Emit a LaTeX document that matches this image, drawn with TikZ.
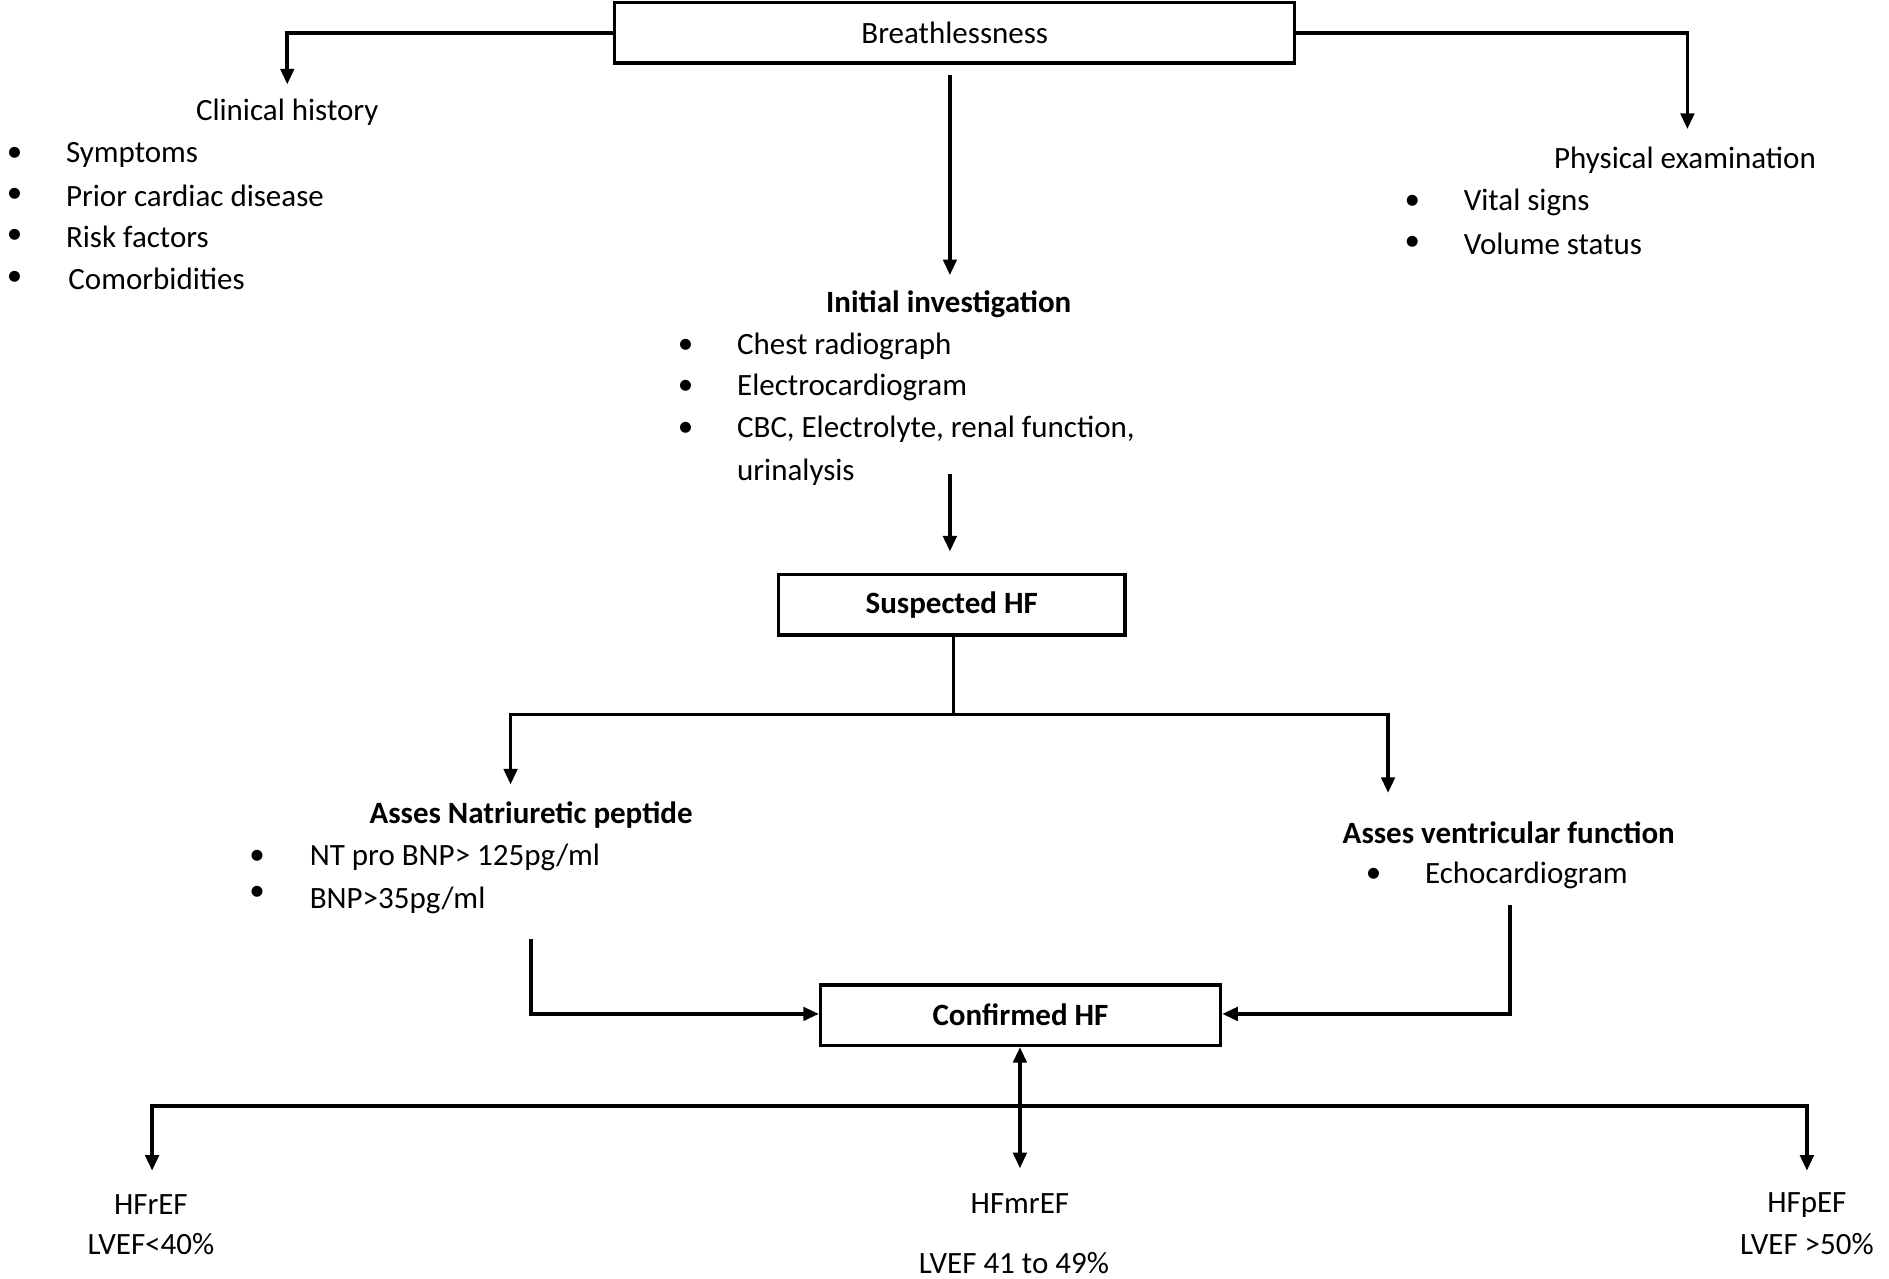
\documentclass[tikz,border=0pt]{standalone}
\usepackage{fontspec}
\setmainfont{Carlito}
\usetikzlibrary{arrows.meta}
\begin{document}
\begin{tikzpicture}[x=0.01cm,y=-0.01cm,font=\fontsize{7.3}{9}\selectfont,
  box/.style={draw,line width=0.8pt,minimum height=0.5cm,inner sep=0pt},
  t/.style={inner sep=0pt,anchor=center},
  tl/.style={inner sep=0pt,anchor=west},
  bl/.style={inner sep=0pt,anchor=center},
  ln/.style={line width=0.9pt},
  ar/.style={ln,-{Triangle[length=1.3mm,width=1.1mm]}}]
\useasboundingbox (0,0) rectangle (1565,1059);
\node[box,minimum width=5.63cm] (br) at (791,27) {Breathlessness};
\coordinate (brl) at (510,27); \coordinate (brr) at (1073,27);
\coordinate (c1) at (238,27); \coordinate (c1e) at (238,70);
\coordinate (c2) at (1398,27); \coordinate (c2e) at (1398,107);
\draw[ar] (brl) -- (c1) -- (c1e);
\draw[ar] (brr) -- (c2) -- (c2e);
\node[t] (ch) at (238,93) {Clinical history};
\foreach \y/\s/\x [count=\i] in {128/Symptoms/54,162/Prior cardiac disease/54,196/Risk factors/54,231/Comorbidities/56}{
  \node[bl] (chb\i) at (12,\y) {•}; \node[tl] (cht\i) at (\x,\y) {\s};}
\node[t] (pe) at (1396,133) {Physical examination};
\foreach \y/\s [count=\i] in {168/Vital signs,202/Volume status}{
  \node[bl] (peb\i) at (1170,\y) {•}; \node[tl] (pet\i) at (1212,\y) {\s};}
\coordinate (a1s) at (787,62); \coordinate (a1e) at (787,228);
\draw[ar] (a1s) -- (a1e);
\node[t,font=\fontsize{7.3}{9}\selectfont\bfseries] (ii) at (786,252) {Initial investigation};
\foreach \y/\s [count=\i] in {287/Chest radiograph,321/Electrocardiogram,356/{CBC, Electrolyte, renal function,}}{
  \node[bl] (iib\i) at (568,\y) {•}; \node[tl] (iit\i) at (610,\y) {\s};}
\node[tl] (iit4) at (610,391) {urinalysis};
\coordinate (a2s) at (787,393); \coordinate (a2e) at (787,457);
\draw[ar] (a2s) -- (a2e);
\node[box,minimum width=2.87cm,font=\fontsize{7.3}{9}\selectfont\bfseries] (sh) at (788.5,501) {Suspected HF};
\coordinate (j1) at (790,592); \coordinate (jl) at (423,592); \coordinate (jr) at (1150,592);
\coordinate (jle) at (423,650); \coordinate (jre) at (1150,657);
\draw[ln] (sh.south -| j1) -- (j1);
\draw[ar] (j1) -- (jl) -- (jle);
\draw[ar] (j1) -- (jr) -- (jre);
\node[t,font=\fontsize{7.3}{9}\selectfont\bfseries] (np) at (440,675) {Asses Natriuretic peptide};
\node[bl] (npb1) at (213,710) {•}; \node[tl] (npt1) at (256,710) {NT pro BNP> 125pg/ml};
\node[bl] (npb2) at (213,740) {•}; \node[tl] (npt2) at (256,746) {BNP>35pg/ml};
\node[t,font=\fontsize{7.3}{9}\selectfont\bfseries] (vf) at (1250,690) {Asses ventricular function};
\node[bl] (vfb1) at (1138,725) {•}; \node[tl] (vft1) at (1180,725) {Echocardiogram};
\node[box,minimum width=3.31cm,font=\fontsize{7.3}{9}\selectfont\bfseries] (cf) at (845.5,841) {Confirmed HF};
\coordinate (l1) at (440,778); \coordinate (l2) at (440,840);
\coordinate (r1) at (1251,750); \coordinate (r2) at (1251,840);
\draw[ar] (l1) -- (l2) -- (cf.west |- l2);
\draw[ar] (r1) -- (r2) -- (cf.east |- r2);
\coordinate (m2) at (845,968);
\draw[ln,{Triangle[length=1.3mm,width=1.1mm]}-{Triangle[length=1.3mm,width=1.1mm]}] (cf.south -| m2) -- (m2);
\coordinate (h1) at (126,916); \coordinate (h2) at (1497,916);
\coordinate (h1e) at (126,970); \coordinate (h2e) at (1497,970);
\draw[ar] (h2) -- (h1) -- (h1e);
\draw[ar] (h1) -- (h2) -- (h2e);
\node[t] (r) at (125,998) {HFrEF}; \node[t] (rv) at (125,1031) {LVEF<40\%};
\node[t] (m) at (845,997) {HFmrEF}; \node[t] (mv) at (840,1046) {LVEF 41 to 49\%};
\node[t] (p) at (1497,998) {HFpEF}; \node[t] (pv) at (1497,1031) {LVEF >50\%};
\end{tikzpicture}
\end{document}
